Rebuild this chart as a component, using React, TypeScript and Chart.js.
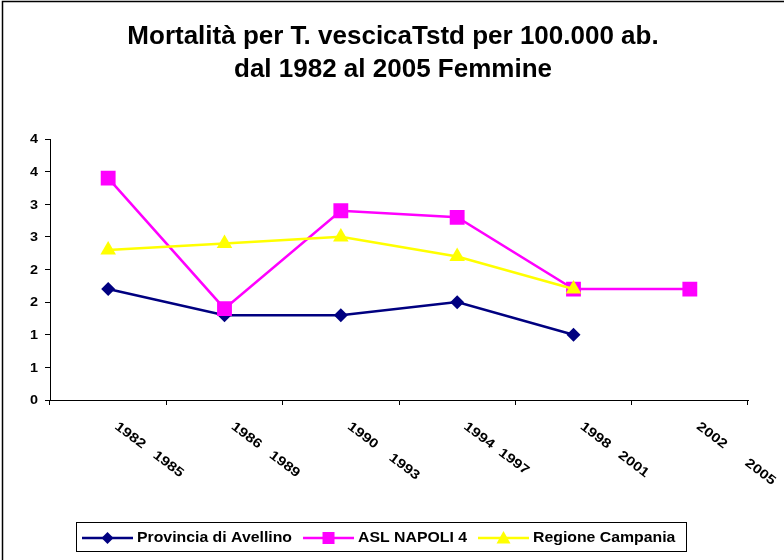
import React, { useEffect, useRef } from 'react';
import { Chart, registerables } from 'chart.js';

Chart.register(...registerables);

const titleLines = ['Mortalità per T. vescicaTstd per 100.000 ab.', 'dal 1982 al 2005 Femmine'];
const categories = ['1982   1985', '1986   1989', '1990    1993', '1994  1997', '1998   2001', '2002      2005'];
const seriesNames = ['Provincia di Avellino', 'ASL NAPOLI 4', 'Regione Campania'];
const avellino = [1.7, 1.3, 1.3, 1.5, 1.0, null];
const aslNapoli4 = [3.4, 1.4, 2.9, 2.8, 1.7, 1.7];
const campania = [2.3, 2.4, 2.5, 2.2, 1.7, null];
const yMin = 0;
const yMax = 4;
const yStep = 0.5;

const colors = ['#000080', '#FF00FF', '#FFFF00'];
const FONT = '"Liberation Sans", Arial, sans-serif';

function drawMarker(ctx: CanvasRenderingContext2D, kind: number, x: number, y: number, s: number) {
  ctx.beginPath();
  if (kind === 0) {
    ctx.moveTo(x - s, y);
    ctx.lineTo(x, y - s);
    ctx.lineTo(x + s, y);
    ctx.lineTo(x, y + s);
  } else if (kind === 1) {
    ctx.rect(x - s, y - s, 2 * s, 2 * s);
  } else {
    ctx.moveTo(x, y - s);
    ctx.lineTo(x + s, y + s * 0.8);
    ctx.lineTo(x - s, y + s * 0.8);
  }
  ctx.closePath();
  ctx.fill();
}

function stretchedText(ctx: CanvasRenderingContext2D, text: string, x: number, y: number, sx: number, align: 'left' | 'right' | 'center') {
  const w = ctx.measureText(text).width * sx;
  let left = x;
  if (align === 'right') left = x - w;
  else if (align === 'center') left = x - w / 2;
  ctx.save();
  ctx.translate(left, y);
  ctx.scale(sx, 1);
  ctx.textAlign = 'left';
  ctx.fillText(text, 0, 0);
  ctx.restore();
  return w;
}

const decorPlugin = {
  id: 'decor',
  afterDraw(chart: any) {
    const ctx: CanvasRenderingContext2D = chart.ctx;
    ctx.save();
    // outer border (top & left visible)
    ctx.strokeStyle = '#000';
    ctx.lineWidth = 1.5;
    ctx.strokeRect(2.5, 1.5, 900, 900);

    // title
    ctx.fillStyle = '#000';
    ctx.font = `bold 26px ${FONT}`;
    ctx.textAlign = 'center';
    ctx.textBaseline = 'alphabetic';
    ctx.fillText(titleLines[0], 393, 44);
    ctx.fillText(titleLines[1], 393, 77);

    // y tick labels
    const ys = chart.scales.y;
    ctx.font = `bold 12px ${FONT}`;
    ctx.textBaseline = 'middle';
    ys.ticks.forEach((t: any) => {
      const py = ys.getPixelForValue(t.value);
      stretchedText(ctx, String(Math.round(Number(t.value))), 38, py + 1, 1.2, 'right');
    });

    // x labels rotated
    const xs = chart.scales.x;
    ctx.font = `bold 13px ${FONT}`;
    ctx.textAlign = 'left';
    ctx.textBaseline = 'top';
    categories.forEach((lab, i) => {
      const px = xs.getPixelForValue(i);
      ctx.save();
      ctx.translate(px + 12, 420);
      ctx.rotate((37 * Math.PI) / 180);
      ctx.scale(1.2, 1);
      ctx.fillText(lab, 0, 0);
      ctx.restore();
    });

    // legend
    ctx.lineWidth = 1;
    ctx.strokeStyle = '#000';
    ctx.strokeRect(76.5, 522.5, 610, 29);
    ctx.font = `bold 14px ${FONT}`;
    ctx.textBaseline = 'middle';
    let x = 82;
    const cy = 538;
    const sizes = [6, 6, 7];
    seriesNames.forEach((name, i) => {
      ctx.strokeStyle = colors[i];
      ctx.lineWidth = 2.5;
      ctx.beginPath();
      ctx.moveTo(x, cy);
      ctx.lineTo(x + 51, cy);
      ctx.stroke();
      ctx.fillStyle = colors[i];
      drawMarker(ctx, i, x + 25.5, cy, sizes[i]);
      ctx.fillStyle = '#000';
      const w = stretchedText(ctx, name, x + 55, cy, 1.13, 'left');
      x += 55 + w + 11;
    });
    ctx.restore();
  },
};

export default function App() {
  const ref = useRef<HTMLCanvasElement>(null);
  useEffect(() => {
    document.body.style.margin = '0';
    const chart = new Chart(ref.current!, {
      type: 'line',
      data: {
        labels: categories,
        datasets: [
          {
            label: seriesNames[0],
            data: avellino,
            borderColor: colors[0],
            backgroundColor: colors[0],
            borderWidth: 2.5,
            pointStyle: 'rectRot',
            pointRadius: 7,
            pointBorderWidth: 0,
            pointBackgroundColor: colors[0],
            order: 3,
          },
          {
            label: seriesNames[1],
            data: aslNapoli4,
            borderColor: colors[1],
            backgroundColor: colors[1],
            borderWidth: 2.5,
            pointStyle: 'rect',
            pointRadius: 10.5,
            pointBorderWidth: 0,
            pointBackgroundColor: colors[1],
            order: 2,
          },
          {
            label: seriesNames[2],
            data: campania,
            borderColor: colors[2],
            backgroundColor: colors[2],
            borderWidth: 2.5,
            pointStyle: 'triangle',
            pointRadius: 9,
            pointBorderWidth: 0,
            pointBackgroundColor: colors[2],
            order: 1,
          },
        ],
      },
      options: {
        animation: false,
        responsive: false,
        events: [],
        layout: { padding: { left: 0, top: 139, right: 36, bottom: 160 } },
        plugins: { legend: { display: false }, title: { display: false }, tooltip: { enabled: false } },
        scales: {
          x: {
            type: 'category',
            offset: true,
            afterFit: (s: any) => { s.height = 0; },
            grid: { offset: true, drawOnChartArea: false, drawTicks: true, tickLength: 5, color: '#000', lineWidth: 1 },
            border: { display: true, color: '#000', width: 1 },
            ticks: { display: false },
          },
          y: {
            min: yMin,
            max: yMax,
            afterFit: (s: any) => { s.width = 50; },
            grid: { drawOnChartArea: false, drawTicks: true, tickLength: 5, color: '#000', lineWidth: 1 },
            border: { display: true, color: '#000', width: 1 },
            ticks: { stepSize: yStep, display: false },
          },
        },
      },
      plugins: [decorPlugin],
    });
    return () => chart.destroy();
  }, []);
  return (
    <div style={{ width: 784, height: 560 }}>
      <canvas ref={ref} width={784} height={560} style={{ display: 'block', width: 784, height: 560 }} />
    </div>
  );
}
